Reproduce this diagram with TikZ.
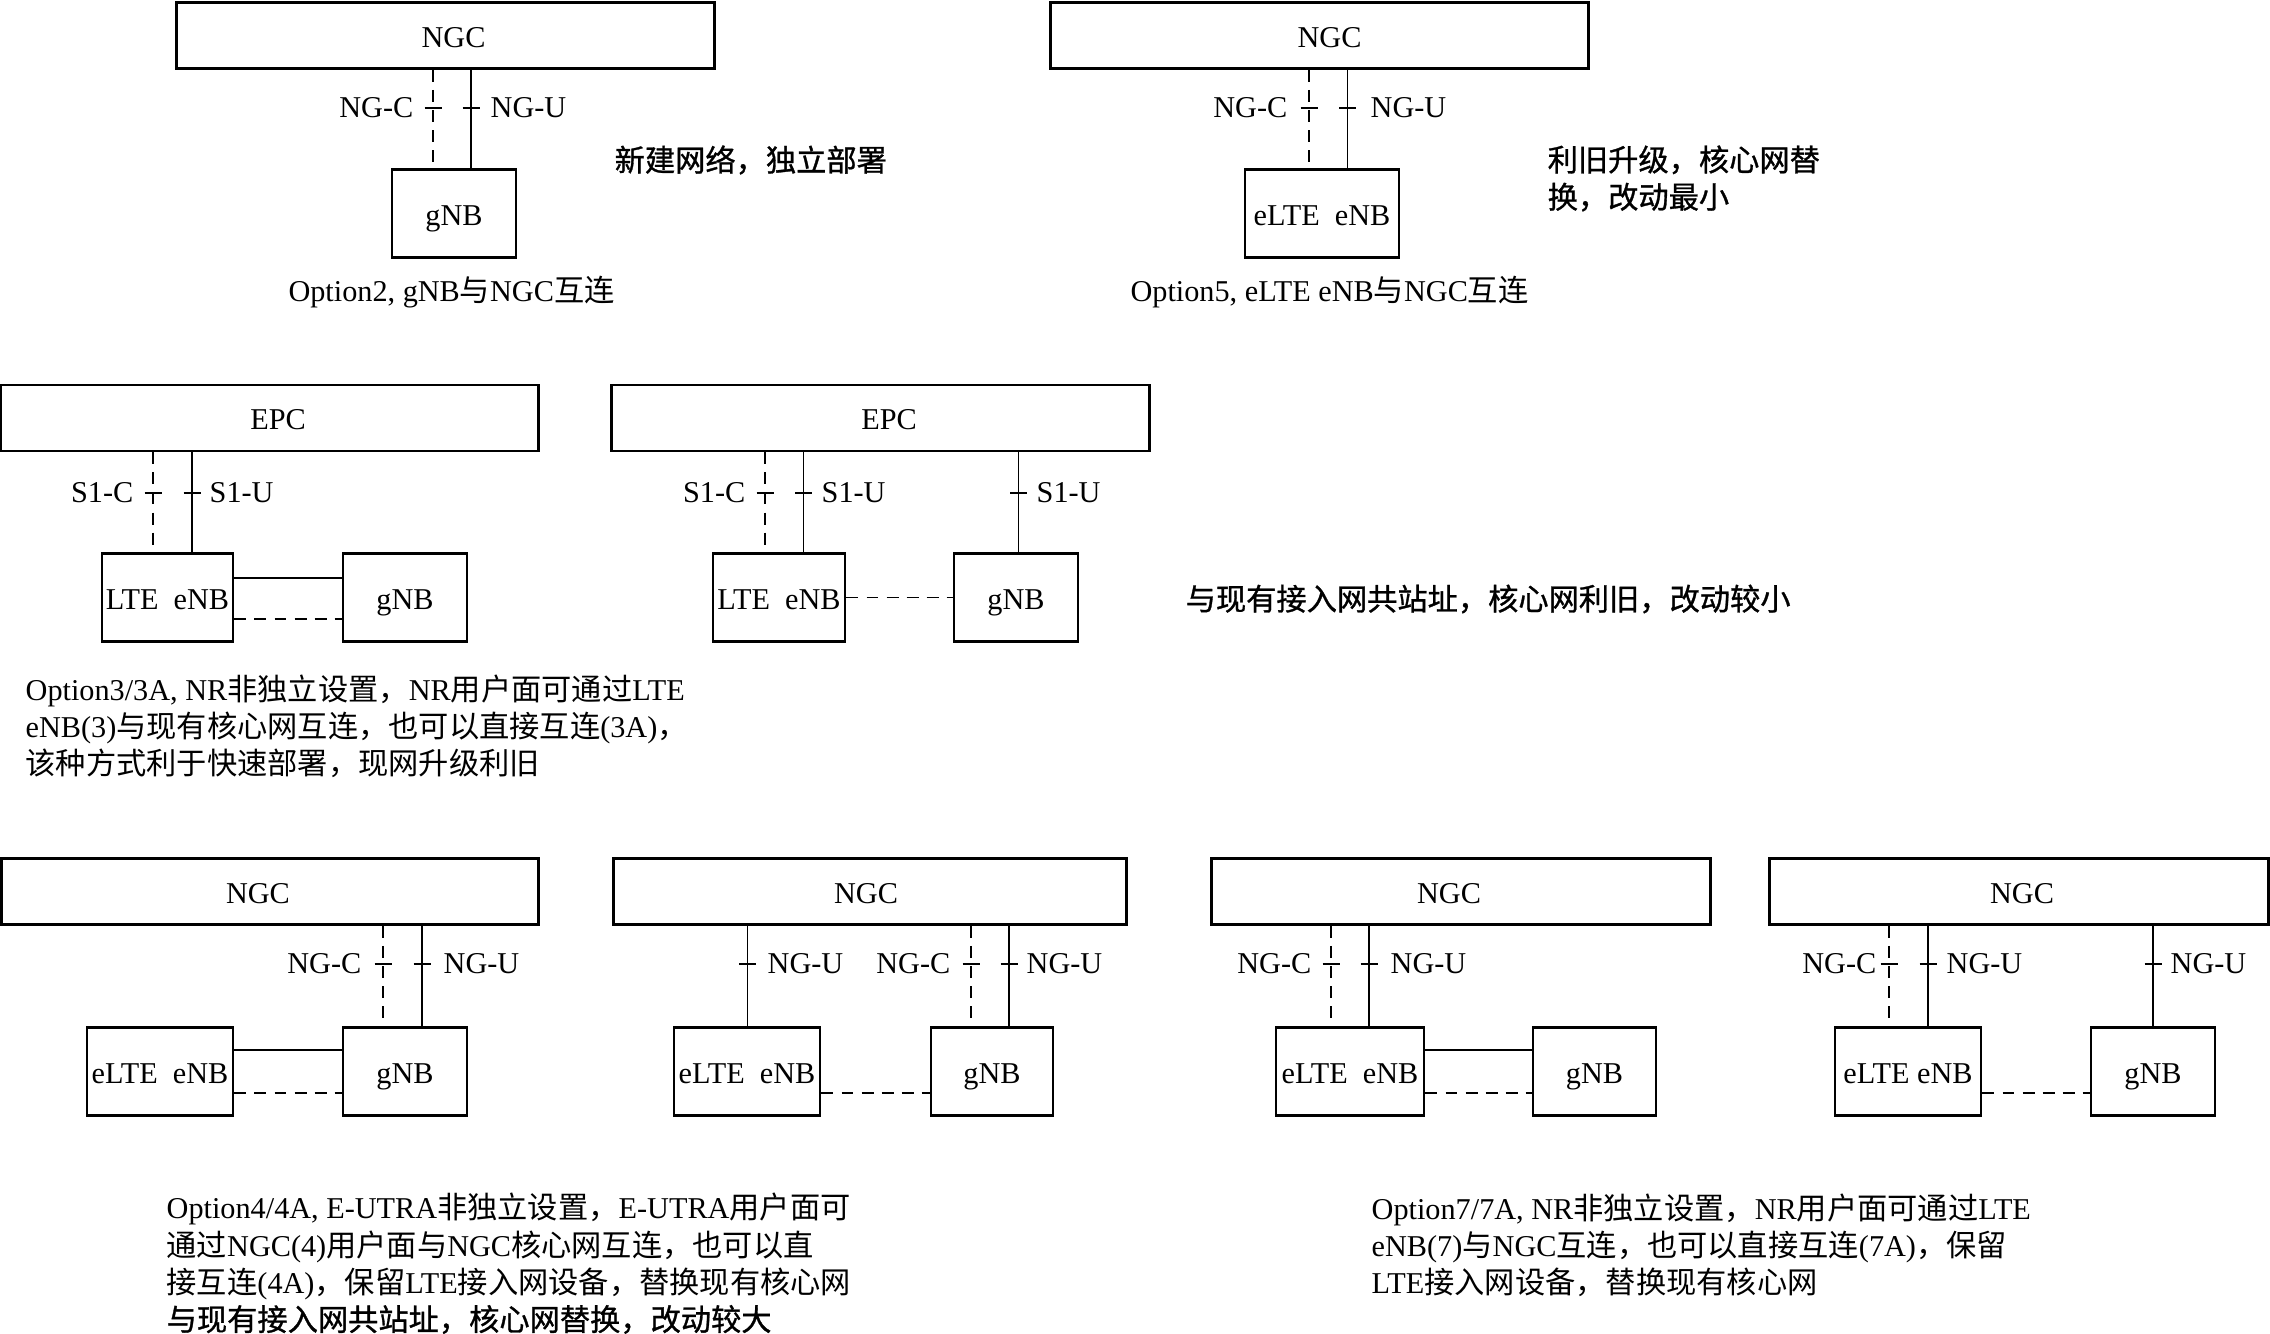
\documentclass[tikz,border=0pt]{standalone}
\usepackage{fontspec}
\setmainfont{Liberation Serif}
\newfontfamily\cnfont{Noto Sans CJK SC}
\newfontfamily\cnbold[FakeBold=1]{Noto Sans CJK SC}
\newcommand{\cn}[1]{{\cnfont #1}}
\newcommand{\cnb}[1]{{\cnbold #1}}
\newcommand{\tick}[2]{\draw[uline] (#1-8.5,#2) -- (#1+8.5,#2);}
\tikzset{
  every node/.style={font=\fontsize{8.6pt}{10.6pt}\selectfont},
  corebox/.style={rectangle, draw, line width=0.8pt, minimum width=#1,
    minimum height=0.66cm, inner sep=0pt},
  corebox/.default=5.37cm,
  ranbox/.style={rectangle, draw, line width=0.8pt, minimum width=#1,
    minimum height=0.88cm, inner sep=0pt, text height=0.66em, text depth=0pt},
  ranbox/.default=1.24cm,
  boxtext/.style={inner sep=0pt, text height=0.66em, text depth=0pt},
  uline/.style={line width=0.55pt},
  cline/.style={line width=0.55pt, dash pattern=on 3.4pt off 2.3pt},
  ifname/.style={inner sep=0pt},
  note/.style={inner sep=0pt, align=left}
}

\begin{document}
\begin{tikzpicture}[x=0.01cm, y=-0.01cm]
  \useasboundingbox (0,0) rectangle (2270,1334);

  % Option2
  \node[corebox] (ngcA) at (445.5,35.5) {};
  \node[boxtext] (ngcA-t) at ([xshift=0.08cm]ngcA.center) {NGC};
  \node[ranbox] (gnbA) at (454,213.5) {gNB};
  \draw[cline] (ngcA.south -| 433,0) -- (gnbA.north -| 433,0);
  \draw[uline] (ngcA.south -| 471,0) -- (gnbA.north -| 471,0);
  \tick{433}{108} \tick{471}{108}
  \node[ifname, anchor=east] (ngcA-c) at (414,108) {NG-C};
  \node[ifname, anchor=west] (ngcA-u) at (490,108) {NG-U};
  \node[ifname] (capA) at (451.5,292) {Option2, gNB\cn{与}NGC\cn{互连}};
  \node[note, anchor=west] (remA) at (614,160) {\cnb{新建网络，独立部署}};

  % Option5
  \node[corebox] (ngcB) at (1319.5,35.5) {};
  \node[boxtext] (ngcB-t) at ([xshift=0.1cm]ngcB.center) {NGC};
  \node[ranbox=1.54cm] (enbB) at (1322,213.5) {eLTE\ \ eNB};
  \draw[cline] (ngcB.south -| 1309,0) -- (enbB.north -| 1309,0);
  \draw[uline] (ngcB.south -| 1347.5,0) -- (enbB.north -| 1347.5,0);
  \tick{1309}{108} \tick{1347.5}{108}
  \node[ifname, anchor=east] (ngcB-c) at (1288,108) {NG-C};
  \node[ifname, anchor=west] (ngcB-u) at (1370,108) {NG-U};
  \node[ifname] (capB) at (1329.5,292) {Option5, eLTE eNB\cn{与}NGC\cn{互连}};
  \node[note, anchor=west] (remB) at (1547,178.5) {\cnb{利旧升级，核心网替}\\\cnb{换，改动最小}};

  % Option3
  \node[corebox] (epcC) at (269.5,418) {};
  \node[boxtext] (epcC-t) at ([xshift=0.085cm]epcC.center) {EPC};
  \node[ranbox=1.31cm] (lteC) at (167.5,597.5) {LTE\ \ eNB};
  \node[ranbox] (gnbC) at (405,597.5) {gNB};
  \draw[cline] (epcC.south -| 153,0) -- (lteC.north -| 153,0);
  \draw[uline] (epcC.south -| 192,0) -- (lteC.north -| 192,0);
  \tick{153}{493} \tick{192}{493}
  \node[ifname, anchor=east] (epcC-c) at (134,493) {S1-C};
  \node[ifname, anchor=west] (epcC-u) at (209,493) {S1-U};
  \draw[uline] (lteC.east |- 0,578) -- (gnbC.west |- 0,578);
  \draw[cline] (lteC.east |- 0,619) -- (gnbC.west |- 0,619);

  % Option3A
  \node[corebox] (epcD) at (880.5,418) {};
  \node[boxtext] (epcD-t) at ([xshift=0.085cm]epcD.center) {EPC};
  \node[ranbox=1.32cm] (lteD) at (779,597.5) {LTE\ \ eNB};
  \node[ranbox] (gnbD) at (1016,597.5) {gNB};
  \draw[cline] (epcD.south -| 765,0) -- (lteD.north -| 765,0);
  \draw[uline] (epcD.south -| 803.5,0) -- (lteD.north -| 803.5,0);
  \draw[uline] (epcD.south -| 1018.5,0) -- (gnbD.north -| 1018.5,0);
  \tick{765}{493} \tick{803.5}{493} \tick{1018.5}{493}
  \node[ifname, anchor=east] (epcD-c) at (746,493) {S1-C};
  \node[ifname, anchor=west] (epcD-u) at (821,493) {S1-U};
  \node[ifname, anchor=west] (epcD-u2) at (1036,493) {S1-U};
  \draw[cline] (lteD.east) -- (gnbD.west);
  \node[note, anchor=west] (remD) at (1185,599) {\cnb{与现有接入网共站址，核心网利旧，改动较小}};

  \node[note, anchor=west] (capC) at (25,726.5)
    {Option3/3A, NR\cn{非独立设置，}NR\cn{用户面可通过}LTE\\
     eNB(3)\cn{与现有核心网互连，也可以直接互连}(3A)\cn{，}\\
     \cn{该种方式利于快速部署，现网升级利旧}};

  % Option4
  \node[corebox] (ngcE) at (270,891.5) {};
  \node[boxtext] (ngcE-t) at ([xshift=-0.12cm]ngcE.center) {NGC};
  \node[ranbox=1.46cm] (enbE) at (160,1071.5) {eLTE\ \ eNB};
  \node[ranbox] (gnbE) at (405,1071.5) {gNB};
  \draw[cline] (ngcE.south -| 383,0) -- (gnbE.north -| 383,0);
  \draw[uline] (ngcE.south -| 422,0) -- (gnbE.north -| 422,0);
  \tick{383}{964} \tick{422}{964}
  \node[ifname, anchor=east] (ngcE-c) at (362,964) {NG-C};
  \node[ifname, anchor=west] (ngcE-u) at (443,964) {NG-U};
  \draw[uline] (enbE.east |- 0,1050) -- (gnbE.west |- 0,1050);
  \draw[cline] (enbE.east |- 0,1093) -- (gnbE.west |- 0,1093);

  % Option4A
  \node[corebox=5.12cm] (ngcF) at (870,891.5) {};
  \node[boxtext] (ngcF-t) at ([xshift=-0.04cm]ngcF.center) {NGC};
  \node[ranbox=1.46cm] (enbF) at (747,1071.5) {eLTE\ \ eNB};
  \node[ranbox=1.22cm] (gnbF) at (992,1071.5) {gNB};
  \draw[uline] (ngcF.south -| 747.5,0) -- (enbF.north -| 747.5,0);
  \draw[cline] (ngcF.south -| 971,0) -- (gnbF.north -| 971,0);
  \draw[uline] (ngcF.south -| 1009,0) -- (gnbF.north -| 1009,0);
  \tick{747.5}{964} \tick{971}{964} \tick{1009}{964}
  \node[ifname, anchor=west] (ngcF-u) at (767,964) {NG-U};
  \node[ifname, anchor=east] (ngcF-c) at (951,964) {NG-C};
  \node[ifname, anchor=west] (ngcF-u2) at (1026,964) {NG-U};
  \draw[cline] (enbF.east |- 0,1093) -- (gnbF.west |- 0,1093);

  \node[note, anchor=west] (capE) at (166,1263.5)
    {Option4/4A, E-UTRA\cn{非独立设置，}E-UTRA\cn{用户面可}\\
     \cn{通过}NGC(4)\cn{用户面与}NGC\cn{核心网互连，也可以直}\\
     \cn{接互连}(4A)\cn{，保留}LTE\cn{接入网设备，替换现有核心网}\\
     \cnb{与现有接入网共站址，核心网替换，改动较大}};

  % Option7
  \node[corebox=4.98cm] (ngcG) at (1461,891.5) {};
  \node[boxtext] (ngcG-t) at ([xshift=-0.12cm]ngcG.center) {NGC};
  \node[ranbox=1.48cm] (enbG) at (1350,1071.5) {eLTE\ \ eNB};
  \node[ranbox=1.23cm] (gnbG) at (1594.5,1071.5) {gNB};
  \draw[cline] (ngcG.south -| 1331,0) -- (enbG.north -| 1331,0);
  \draw[uline] (ngcG.south -| 1369,0) -- (enbG.north -| 1369,0);
  \tick{1331}{964} \tick{1369}{964}
  \node[ifname, anchor=east] (ngcG-c) at (1312,964) {NG-C};
  \node[ifname, anchor=west] (ngcG-u) at (1390,964) {NG-U};
  \draw[uline] (enbG.east |- 0,1050) -- (gnbG.west |- 0,1050);
  \draw[cline] (enbG.east |- 0,1093) -- (gnbG.west |- 0,1093);

  % Option7A
  \node[corebox=4.98cm] (ngcH) at (2019,891.5) {};
  \node[boxtext] (ngcH-t) at ([xshift=0.03cm]ngcH.center) {NGC};
  \node[ranbox=1.46cm] (enbH) at (1908,1071.5) {eLTE eNB};
  \node[ranbox] (gnbH) at (2153,1071.5) {gNB};
  \draw[cline] (ngcH.south -| 1889,0) -- (enbH.north -| 1889,0);
  \draw[uline] (ngcH.south -| 1928,0) -- (enbH.north -| 1928,0);
  \draw[uline] (ngcH.south -| 2153,0) -- (gnbH.north -| 2153,0);
  \tick{1889}{964} \tick{1928}{964} \tick{2153}{964}
  \node[ifname, anchor=east] (ngcH-c) at (1877,964) {NG-C};
  \node[ifname, anchor=west] (ngcH-u) at (1946,964) {NG-U};
  \node[ifname, anchor=west] (ngcH-u2) at (2170,964) {NG-U};
  \draw[cline] (enbH.east |- 0,1093) -- (gnbH.west |- 0,1093);

  \node[note, anchor=west] (capG) at (1371,1245.5)
    {Option7/7A, NR\cn{非独立设置，}NR\cn{用户面可通过}LTE\\
     eNB(7)\cn{与}NGC\cn{互连，也可以直接互连}(7A)\cn{，保留}\\
     LTE\cn{接入网设备，替换现有核心网}};
\end{tikzpicture}
\end{document}
